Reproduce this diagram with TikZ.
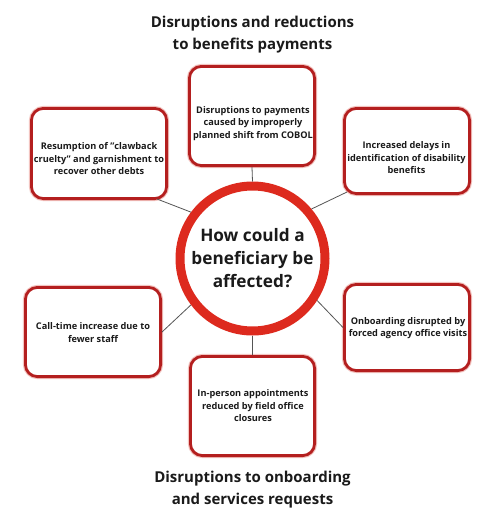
\documentclass[tikz,border=0pt]{standalone}
\usepackage{fontspec}
\setmainfont{Open Sans}
\usetikzlibrary{calc}
\definecolor{boxred}{HTML}{B41F1F}
\definecolor{glowred}{HTML}{F3C4C0}
\definecolor{circred}{HTML}{DD2A1E}
\definecolor{linegray}{HTML}{555555}
\definecolor{inkblack}{HTML}{1A1A1A}
\begin{document}
\begin{tikzpicture}[x=1pt,y=-1pt,
  box/.style={draw=boxred, line width=2.8pt, rounded corners=12pt, fill=white, inner sep=0pt,
              preaction={draw=glowred, line width=5pt}},
  boxtext/.style={font=\fontsize{9.2}{12.5}\selectfont\bfseries, align=center, text=inkblack, inner sep=0pt},
  titletext/.style={font=\fontsize{15}{22}\selectfont\bfseries, align=center, text=inkblack, inner sep=0pt},
  hub/.style={circle, draw=circred, line width=9pt, fill=white, minimum size=145pt, inner sep=0pt,
              font=\fontsize{17.2}{23}\selectfont\bfseries, align=center, text=inkblack},
  conn/.style={draw=linegray, line width=0.8pt}]
\useasboundingbox[fill=white] (0,0) rectangle (500,525);

% titles
\node[titletext] (toptitle) at (252.5,34.5) {Disruptions and reductions\\to benefits payments};
\node[titletext] (bottitle) at (252.5,490) {Disruptions to onboarding\\and services requests};

% boxes
\node[box, minimum width=125.2pt, minimum height=99.2pt] (t) at (252,116) {};
\node[box, minimum width=135.2pt, minimum height=90.2pt] (lt) at (99,153.5) {};
\node[box, minimum width=125.2pt, minimum height=85.2pt] (rt) at (407,151) {};
\node[box, minimum width=135.2pt, minimum height=89.2pt] (lb) at (93,332) {};
\node[box, minimum width=125.2pt, minimum height=86.2pt] (rb) at (407,327.5) {};
\node[box, minimum width=124.2pt, minimum height=99.2pt] (b) at (252.5,406) {};

% hub
\node[hub] (c) at (252.5,258.5) {How could a\\beneficiary be\\affected?};

% connectors
\draw[conn] (t.south) -- (c.north);
\draw[conn] (c.south) -- (b.north);
\draw[conn] ($(lt.south east)+(-11,-1)$) -- (c.143);
\draw[conn] ($(rt.south west)+(4,-3)$) -- (c.40);
\draw[conn] (lb.east) -- (c.217);
\draw[conn] (rb.west) -- (c.-33);

% box texts
\node[boxtext] (ttxt) at (253,123.5) {Disruptions to payments\\caused by improperly\\planned shift from COBOL};
\node[boxtext] (lttxt) at (99,159) {Resumption of "clawback\\cruelty" and garnishment to\\recover other debts};
\node[boxtext] (rttxt) at (406.5,158) {Increased delays in\\identification of disability\\benefits};
\node[boxtext] (lbtxt) at (93,332.5) {Call-time increase due to\\fewer staff};
\node[boxtext] (rbtxt) at (408,328) {Onboarding disrupted by\\forced agency office visits};
\node[boxtext] (btxt) at (253,406) {In-person appointments\\reduced by field office\\closures};
\end{tikzpicture}
\end{document}
